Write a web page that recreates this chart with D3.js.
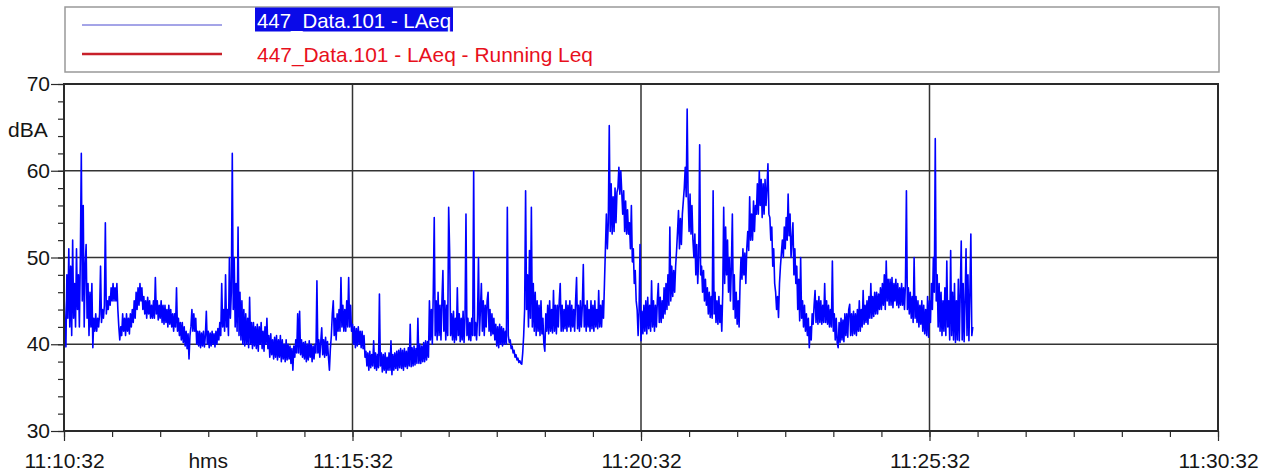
<!DOCTYPE html>
<html>
<head>
<meta charset="utf-8">
<script src="https://cdn.jsdelivr.net/npm/d3@7"></script>
<style>
  body { margin: 0; background: #fff; }
  svg { display: block; font-family: "Liberation Sans", Arial, sans-serif; }
</style>
</head>
<body>
<div id="chart"></div>
<script>
// Time axis and levels
const startTime = '11:10:32';
const endTime = '11:30:32';
const stepSeconds = 1;
const yTicks = [30, 40, 50, 60, 70];
const xTickLabels = ['11:10:32', '11:15:32', '11:20:32', '11:25:32', '11:30:32'];
const seriesNames = ['447_Data.101 - LAeq', '447_Data.101 - LAeq - Running Leq'];
const unitLabel = 'dBA';
const timeLabel = 'hms';

// LAeq, one value per second from 11:10:32 (one row = 50 s)
const laeq = [
  46, 42, 39.7, 48, 43, 51, 42, 49, 41, 52, 43, 47, 42, 51, 44, 48, 42, 50, 62, 45, 56, 42, 49, 51.5, 43, 47, 41, 46, 42, 47, 39.6, 43, 41.5, 43.5, 41.5, 43, 42, 43.5, 49, 42.5, 44, 43, 44.5, 54, 43.5, 45, 44, 45.5, 44.5, 46.5,
  45, 47, 45, 46.5, 45, 47, 44, 42, 40.5, 42, 41, 43.5, 41.5, 43, 41, 43.5, 41.5, 43, 41.2, 43.5, 42, 44, 42.5, 45, 43, 46, 44, 46.5, 44.5, 47, 45, 46.5, 44, 45.5, 43.5, 45, 43, 45.4, 43.5, 45, 43, 44.5, 43, 45, 43, 47.7, 43.5, 45, 42.8, 44.5,
  43, 45, 42.5, 44.5, 42.3, 44.5, 42.5, 44, 42, 44.5, 42.3, 44, 42, 43.5, 41.5, 43.5, 42, 46.5, 41.5, 43, 41, 42.5, 40.5, 42.5, 40.2, 42, 39.8, 41.5, 39.5, 41.2, 38.3, 41, 42, 44, 41.5, 43.5, 41.5, 43, 40, 41.5, 39.8, 41.5, 39.6, 41.3, 39.8, 41.5, 39.7, 41, 43.8, 40,
  41.5, 39.6, 41.3, 39.8, 41.5, 40, 41.2, 39.7, 41.5, 40, 41.8, 40.5, 42.5, 41, 47, 42, 44, 41.5, 48, 42, 44, 41, 50, 43, 46, 62, 44, 50, 42, 47, 41.5, 53.5, 41, 46, 40.5, 45, 40, 44, 39.8, 43.5, 40, 43, 39.6, 45.4, 40, 42.5, 39.5, 42.5, 39.8, 42,
  39.5, 42.3, 39.2, 42, 40, 42.5, 39.5, 41.5, 39.2, 42, 40, 43, 39.5, 41, 38.5, 41.2, 38.8, 40.5, 38.3, 40.8, 38.5, 41, 38.2, 40.5, 38.5, 41, 38, 40.5, 38.3, 40, 38, 40.5, 38.2, 40, 38.3, 39.8, 37.8, 39.5, 37, 39.8, 38.5, 40.5, 39, 43.5, 39, 43.8, 38.8, 40.5, 38.5, 40.2,
  38.3, 40.3, 38, 40, 38.2, 40.4, 38.5, 40, 38, 39.8, 38.3, 40, 39, 47.3, 39, 40.5, 38.5, 40.3, 41.9, 38.8, 40.5, 38.5, 40.8, 38.7, 40.3, 38.5, 37, 39.5, 41, 43.5, 45, 41, 43, 40.5, 43.5, 41.5, 44, 41.5, 47.7, 42, 44.5, 41.5, 44, 41.5, 45, 42, 47.7, 42, 44.5, 41.5,
  42.3, 40, 42, 39.6, 41.8, 39.8, 42, 40, 41.5, 39.6, 41.5, 39.5, 41, 38.5, 39.2, 37.5, 39, 37, 39.2, 37.3, 38.8, 37.5, 40.4, 37.2, 39, 37, 38.8, 37.3, 45.8, 37.5, 39, 36.8, 38.8, 37, 39, 36.7, 38.5, 37, 39, 37, 40.4, 36.5, 38.8, 37, 39, 37.2, 39.2, 37, 39.3, 37.3,
  39.5, 37.2, 39.3, 37, 39.5, 37.4, 39.2, 37.2, 39.6, 37.5, 42.3, 37.4, 39.6, 37.5, 39.8, 37.6, 39.5, 37.8, 43, 37.8, 40, 37.8, 39.8, 38, 40.2, 38, 40.4, 38.2, 40.3, 38.5, 45, 40.5, 44, 40, 46, 54.6, 41, 45, 40.5, 46, 41, 44.5, 40.5, 45, 48.5, 41.5, 45, 40.5, 44.5, 41,
  55.8, 50.8, 41, 43.5, 40.5, 43.8, 40.2, 43, 40.5, 46.5, 41, 43.5, 40.3, 43, 40.5, 43.8, 40.2, 43, 55, 41, 43, 40.5, 42.5, 40.4, 43, 41, 60, 41, 42.5, 40.5, 43, 50, 41, 44, 47, 41.5, 45, 41, 44.5, 42, 45, 46, 41.5, 44, 41, 43.5, 41.2, 43, 40.5, 42.3,
  39.8, 42, 39.6, 42.3, 40, 42, 39.8, 41.8, 40, 41.5, 40, 55.8, 41, 40.2, 40.5, 39.5, 39.8, 39, 39.3, 38.5, 38.8, 38.2, 38.4, 37.9, 38.1, 37.8, 37.7, 39, 41, 44, 57.7, 44, 48, 42, 50.8, 43, 55.8, 42, 47, 41.5, 46, 41, 45, 41.5, 44.5, 41, 45, 41.2, 43, 40,
  39.2, 43.5, 41.5, 44.5, 41.2, 45, 41.5, 44, 41.3, 46.2, 41.5, 44.5, 41.2, 44.5, 42, 45, 47, 41.5, 44.5, 41.5, 44, 41.8, 45, 41.5, 44.5, 42, 45, 41.5, 44.5, 42, 44, 41.5, 45, 47.7, 41.8, 44.5, 41.5, 45, 42, 44.5, 49.2, 42, 44.5, 41.5, 45, 42, 44, 41.5, 45, 41.8,
  44.5, 41.5, 45, 42, 44, 41.8, 46.2, 42, 44.5, 42, 45, 43, 47, 51, 55, 51, 54, 65.2, 53, 58.5, 52.7, 57, 53, 58, 54, 57.5, 58, 60.4, 57.3, 60, 57.5, 55, 57.7, 53, 56.5, 52.7, 55.5, 52.7, 54, 51, 56, 49.5, 51, 47, 48.5, 45, 44, 41, 43.8, 51.5,
  40.4, 43.8, 41.2, 44.5, 41.5, 45, 41.2, 45.4, 41.8, 44.5, 41.5, 47.3, 42, 45, 41.5, 44.5, 42, 45, 47, 42.5, 45.4, 42.5, 45, 43, 46.5, 43.5, 47, 44, 48, 44.5, 53.5, 45, 49, 45.5, 48.5, 46, 49, 50.8, 53, 55.4, 51, 54.5, 51.5, 55, 56.5, 58, 60.4, 57, 67.1, 57,
  53, 57.3, 52.7, 56, 52, 50, 52.7, 48, 51.5, 47, 50, 63, 48, 49, 46, 48.5, 45, 47.5, 44.5, 46.5, 43.5, 46, 43.1, 45.5, 43, 57.7, 43.5, 46, 42.5, 45, 42.3, 45.5, 42.5, 44.5, 41.5, 46, 55.8, 47, 53.5, 48, 52, 46, 50, 45, 49, 55, 44, 48, 43, 46,
  42.3, 45, 42, 47, 50, 47.5, 51, 48, 50.5, 47, 51, 53, 50.8, 57, 52, 55, 52, 56.5, 53, 56, 55, 58.5, 55, 60, 56, 59, 54.6, 58.5, 55, 59, 56, 58, 60.8, 55, 54.6, 52, 53.5, 49, 51, 47, 46, 44, 45.5, 43.1, 47, 49, 50.5, 52, 50, 53.5,
  51, 54.6, 52, 57.3, 52.5, 55, 50, 52, 54, 48, 51, 47, 49, 44, 47.5, 42.7, 50, 43, 45, 42, 44.5, 41.5, 43.5, 41, 43, 39.6, 42, 40.5, 43.5, 42.3, 44.5, 46.2, 42.5, 45, 42.3, 45.5, 42.5, 45, 42.3, 44.5, 42.5, 47, 42.5, 45, 42.3, 44.5, 42, 44, 42, 49.6,
  41.5, 43.5, 40.5, 43, 40.2, 39.6, 42.5, 40.2, 43, 40.5, 42.8, 40.3, 43.5, 41, 43.5, 40.8, 44, 44.6, 41, 43.5, 41, 43.8, 41.2, 43.5, 41, 44, 41.5, 45, 41.5, 44, 42, 46.2, 42.3, 44.5, 42.5, 45, 42.3, 45.5, 43, 47, 43, 45.5, 43.2, 46, 43.5, 46, 43.5, 45.8, 44, 46.5,
  44, 47, 44.5, 48, 44, 49.6, 45, 47.5, 44.5, 47.5, 44.5, 47.7, 44.2, 47, 45, 47.5, 44.5, 47, 44.2, 46.5, 44.5, 47, 44.5, 46.5, 44, 47, 57.7, 44, 46.5, 43.5, 46, 43, 45.5, 42.5, 50, 43, 45.5, 42.5, 45, 42, 44.5, 42.3, 45, 41.5, 44.5, 41.2, 44, 41, 45.5, 40.8,
  45, 42.5, 47, 44, 50, 46, 63.7, 45, 48, 42, 47, 41.5, 46, 41, 45, 41.5, 46.5, 41, 49.6, 42, 45, 40.5, 50.8, 41, 46, 40.5, 47, 40.2, 45, 40.5, 47.5, 40.4, 46, 51.9, 40.5, 47, 40.3, 45, 51, 41, 48, 40.4, 46, 52.7, 41, 42
];

const widthContainer = 1277;
const heightContainer = 472;
const margin = {top: 84, left: 64, right: 59, bottom: 41};
const fontSize = '21px';
const axisColor = '#2a2a2a';
const textColor = '#151515';

const svg = d3.select('#chart')
  .append('svg')
  .attr('width', widthContainer)
  .attr('height', heightContainer);

const parseTime = d3.timeParse('%H:%M:%S');
const t0 = parseTime(startTime);
const t1 = parseTime(endTime);

const xScale = d3.scaleTime()
  .domain([t0, t1])
  .range([margin.left, widthContainer - margin.right]);

const yScale = d3.scaleLinear()
  .domain([yTicks[0], yTicks[yTicks.length - 1]])
  .range([heightContainer - margin.bottom, margin.top]);

const xTicks = xTickLabels.map(parseTime);
const xMinor = d3.range(0, (t1 - t0) / 1000 + 1, 50).map(s => d3.timeSecond.offset(t0, s));
const yMinor = d3.range(yTicks[0], yTicks[yTicks.length - 1] + 1, 2);

// Grid lines
svg.append('g')
  .selectAll('line')
  .data(yTicks.slice(1, -1))
  .enter()
  .append('line')
  .attr('x1', margin.left)
  .attr('x2', widthContainer - margin.right)
  .attr('y1', d => yScale(d))
  .attr('y2', d => yScale(d))
  .attr('stroke', '#333')
  .attr('stroke-width', 1.5);

svg.append('g')
  .selectAll('line')
  .data(xTicks.slice(1, -1))
  .enter()
  .append('line')
  .attr('x1', d => xScale(d))
  .attr('x2', d => xScale(d))
  .attr('y1', margin.top)
  .attr('y2', heightContainer - margin.bottom)
  .attr('stroke', '#333')
  .attr('stroke-width', 1.5);

// Data line
const line = d3.line()
  .x((d, i) => xScale(d3.timeSecond.offset(t0, i * stepSeconds)))
  .y(d => yScale(d));

svg.append('path')
  .datum(laeq)
  .attr('d', line)
  .attr('fill', 'none')
  .attr('stroke', '#0000ff')
  .attr('stroke-width', 1.6)
  .attr('stroke-linejoin', 'round');

// Frame
svg.append('rect')
  .attr('x', margin.left)
  .attr('y', margin.top)
  .attr('width', widthContainer - margin.left - margin.right)
  .attr('height', heightContainer - margin.top - margin.bottom)
  .attr('fill', 'none')
  .attr('stroke', axisColor)
  .attr('stroke-width', 2);

// y-axis, minor then major
svg.append('g')
  .attr('transform', `translate(${margin.left}, 0)`)
  .call(d3.axisLeft(yScale).tickValues(yMinor).tickSize(6).tickFormat(''))
  .call(g => g.select('.domain').remove())
  .selectAll('line').attr('stroke', axisColor).attr('stroke-width', 1.2);

svg.append('g')
  .attr('transform', `translate(${margin.left}, 0)`)
  .style('font-size', fontSize)
  .call(d3.axisLeft(yScale).tickValues(yTicks).tickSize(13).tickPadding(1).tickFormat(d3.format('d')))
  .call(g => g.select('.domain').remove())
  .call(g => g.selectAll('line').attr('stroke', axisColor).attr('stroke-width', 1.2))
  .selectAll('text').attr('fill', textColor).attr('font-family', '"Liberation Sans", Arial, sans-serif');

// x-axis, minor then major
svg.append('g')
  .attr('transform', `translate(0, ${heightContainer - margin.bottom})`)
  .call(d3.axisBottom(xScale).tickValues(xMinor).tickSize(6).tickFormat(''))
  .call(g => g.select('.domain').remove())
  .selectAll('line').attr('stroke', axisColor).attr('stroke-width', 1.2);

svg.append('g')
  .attr('transform', `translate(0, ${heightContainer - margin.bottom})`)
  .style('font-size', fontSize)
  .call(d3.axisBottom(xScale).tickValues(xTicks).tickSize(10).tickPadding(12).tickFormat(d3.timeFormat('%H:%M:%S')))
  .call(g => g.select('.domain').remove())
  .call(g => g.selectAll('line').attr('stroke', axisColor).attr('stroke-width', 1.2))
  .selectAll('text').attr('fill', textColor).attr('font-family', '"Liberation Sans", Arial, sans-serif');

// Unit labels
svg.append('text')
  .attr('x', 8)
  .attr('y', 137)
  .style('font-size', fontSize)
  .style('fill', textColor)
  .text(unitLabel);

svg.append('text')
  .attr('x', (xScale(xTicks[0]) + xScale(xTicks[1])) / 2)
  .attr('y', 468)
  .attr('text-anchor', 'middle')
  .style('font-size', fontSize)
  .style('fill', textColor)
  .text(timeLabel);

// Legend
const legend = svg.append('g');

legend.append('rect')
  .attr('x', 65)
  .attr('y', 7)
  .attr('width', 1154)
  .attr('height', 65)
  .attr('fill', '#fff')
  .attr('stroke', '#999')
  .attr('stroke-width', 1.5);

legend.append('line')
  .attr('x1', 82).attr('x2', 222)
  .attr('y1', 25).attr('y2', 25)
  .attr('stroke', '#4a4ad0')
  .attr('stroke-width', 1);

legend.append('line')
  .attr('x1', 82).attr('x2', 222)
  .attr('y1', 54).attr('y2', 54)
  .attr('stroke', '#c8202a')
  .attr('stroke-width', 2.5);

legend.append('rect')
  .attr('x', 255)
  .attr('y', 7.5)
  .attr('width', 198)
  .attr('height', 24)
  .attr('fill', '#0a0ae8');

legend.append('text')
  .attr('x', 257)
  .attr('y', 28)
  .attr('textLength', 194)
  .attr('lengthAdjust', 'spacingAndGlyphs')
  .style('font-size', fontSize)
  .style('fill', '#fff')
  .text(seriesNames[0]);

legend.append('text')
  .attr('x', 257)
  .attr('y', 62)
  .attr('textLength', 336)
  .attr('lengthAdjust', 'spacingAndGlyphs')
  .style('font-size', fontSize)
  .style('fill', '#e8101c')
  .text(seriesNames[1]);
</script>
</body>
</html>
